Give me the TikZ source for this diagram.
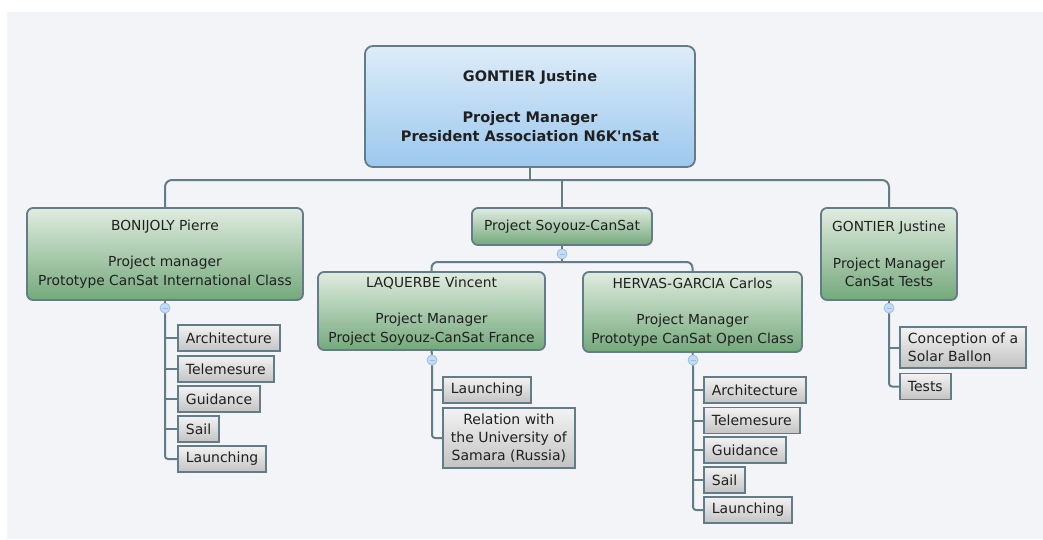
\documentclass[tikz,border=0pt]{standalone}
\usepackage{fontspec}
\setmainfont{DejaVu Sans}[Ligatures=TeXOff]
\usetikzlibrary{calc}
\definecolor{panel}{HTML}{F3F4F8}
\definecolor{linkgrey}{HTML}{627C88}
\definecolor{ink}{HTML}{202020}
\definecolor{bluetop}{HTML}{DDECF8}
\definecolor{bluebot}{HTML}{9CC8EE}
\definecolor{greentop}{HTML}{E0ECE0}
\definecolor{greenbot}{HTML}{74A97B}
\definecolor{greytop}{HTML}{F3F3F3}
\definecolor{greybot}{HTML}{C3C3C3}
\definecolor{togglefill}{HTML}{C4DBF3}
\definecolor{togglerim}{HTML}{9DBFE2}
\tikzset{
	link/.style={line width=2pt, color=linkgrey},
	person/.style={draw=linkgrey, line width=1.8pt, rounded corners=6pt, top color=greentop, bottom color=greenbot, align=center, text=ink, inner sep=0pt, font=\fontsize{13.8}{18.5}\selectfont},
	chief/.style={person, top color=bluetop, bottom color=bluebot, rounded corners=8pt, font=\bfseries\fontsize{14.5}{19.5}\selectfont},
	task/.style={draw=linkgrey, line width=1.8pt, top color=greytop, bottom color=greybot, align=center, text=ink, anchor=west, minimum height=26pt, inner xsep=8pt, inner ysep=6pt, font=\fontsize{14}{18}\selectfont},
	toggle/.style={circle, draw=togglerim, fill=togglefill, line width=0.8pt, minimum size=10pt, inner sep=0pt, path picture={\draw[color=togglerim, line width=0.8pt] ($(path picture bounding box.west)+(2.5pt,0)$) -- ($(path picture bounding box.east)-(2.5pt,0)$);}}
}

\begin{document}
\begin{tikzpicture}[x=1pt, y=-1pt]
			%%%%% START %%%%%
			
			\useasboundingbox (0, 0) rectangle (1043, 539);
			\fill[panel] (7, 12) rectangle (1043, 539);
			
			\node[chief, minimum width=330pt, minimum height=121pt] (root) at (530, 106.5) {GONTIER Justine\\[21pt]Project Manager\\President Association N6K'nSat};
			\coordinate (rootBar) at (530, 180);
			
			\node[person, minimum width=276pt, minimum height=92pt] (bonijoly) at (165, 254) {BONIJOLY Pierre\\[18pt]Project manager\\Prototype CanSat International Class};
			\node[person, minimum width=180pt, minimum height=37pt] (soyouz) at (562, 226.5) {Project Soyouz-CanSat};
			\node[person, minimum width=136pt, minimum height=92pt] (gontier) at (889, 254) {GONTIER Justine\\[18pt]Project Manager\\CanSat Tests};
			\node[person, minimum width=227pt, minimum height=78pt] (laquerbe) at (431.5, 311) {LAQUERBE Vincent\\[18pt]Project Manager\\Project Soyouz-CanSat France};
			\node[person, minimum width=219pt, minimum height=80pt] (hervas) at (692.5, 312) {HERVAS-GARCIA Carlos\\[18pt]Project Manager\\Prototype CanSat Open Class};
			
			\node[toggle] (bonijolyT) at (165, 308) {};
			\node[toggle] (soyouzT) at (562, 254) {};
			\node[toggle] (gontierT) at (889, 308) {};
			\node[toggle] (laquerbeT) at (432, 360) {};
			\node[toggle] (hervasT) at (693, 360) {};
			\coordinate (soyouzBar) at (562, 262);
			
			\node[task] (bArch) at (177, 338) {Architecture};
			\node[task] (bTele) at (177, 369) {Telemesure};
			\node[task] (bGuid) at (177, 399) {Guidance};
			\node[task] (bSail) at (177, 429) {Sail};
			\node[task] (bLaun) at (177, 459) {Launching};
			
			\node[task] (lLaun) at (442, 390) {Launching};
			\node[task] (lRel) at (442, 438) {Relation with\\the University of\\Samara (Russia)};
			
			\node[task] (hArch) at (703, 390) {Architecture};
			\node[task] (hTele) at (703, 420.5) {Telemesure};
			\node[task] (hGuid) at (703, 450) {Guidance};
			\node[task] (hSail) at (703, 480) {Sail};
			\node[task] (hLaun) at (703, 510) {Launching};
			
			\node[task, align=left] (gConc) at (899, 347.5) {Conception of a\\Solar Ballon};
			\node[task] (gTest) at (899, 386.5) {Tests};
			
			\draw[link] (root.south) -- (rootBar);
			\draw[link, rounded corners=7pt] (bonijoly.north) |- (rootBar) -| (gontier.north);
			\draw[link] (soyouz.north) -- (soyouz.north |- rootBar);
			
			\draw[link] (bonijoly.south) -- (bonijolyT.north);
			\draw[link] (soyouz.south) -- (soyouzT.north);
			\draw[link] (gontier.south) -- (gontierT.north);
			\draw[link] (laquerbe.south) -- (laquerbeT.north);
			\draw[link] (hervas.south) -- (hervasT.north);
			
			\draw[link] (soyouzT.south) -- (soyouzBar);
			\draw[link, rounded corners=6pt] (laquerbe.north) |- (soyouzBar) -| (hervas.north);
			
			\draw[link, rounded corners=3pt] (bonijolyT.south) |- (bLaun.west);
			\draw[link] (bonijolyT.south |- bArch.west) -- (bArch.west);
			\draw[link] (bonijolyT.south |- bTele.west) -- (bTele.west);
			\draw[link] (bonijolyT.south |- bGuid.west) -- (bGuid.west);
			\draw[link] (bonijolyT.south |- bSail.west) -- (bSail.west);
			
			\draw[link, rounded corners=3pt] (laquerbeT.south) |- (lRel.west);
			\draw[link] (laquerbeT.south |- lLaun.west) -- (lLaun.west);
			
			\draw[link, rounded corners=3pt] (hervasT.south) |- (hLaun.west);
			\draw[link] (hervasT.south |- hArch.west) -- (hArch.west);
			\draw[link] (hervasT.south |- hTele.west) -- (hTele.west);
			\draw[link] (hervasT.south |- hGuid.west) -- (hGuid.west);
			\draw[link] (hervasT.south |- hSail.west) -- (hSail.west);
			
			\draw[link, rounded corners=3pt] (gontierT.south) |- (gTest.west);
			\draw[link] (gontierT.south |- gConc.west) -- (gConc.west);
			
			%%%%% END %%%%%
		\end{tikzpicture}
\end{document}
